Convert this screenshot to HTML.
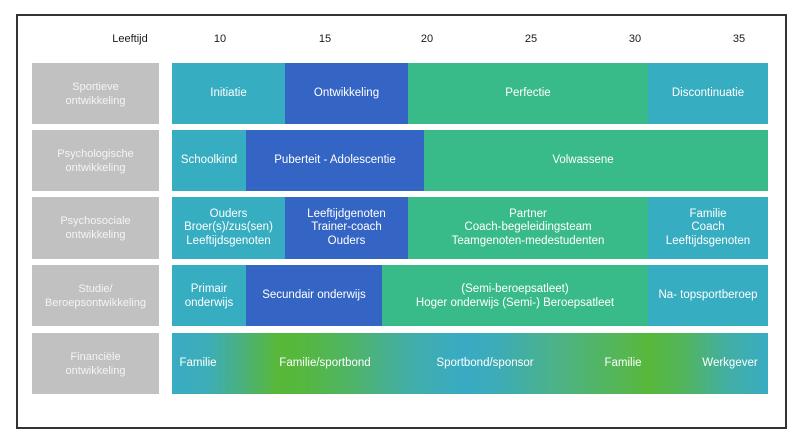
<!DOCTYPE html>
<html><head><meta charset="utf-8">
<style>
html,body{margin:0;padding:0;background:#fff;}
body{width:800px;height:443px;position:relative;overflow:hidden;font-family:"Liberation Sans",sans-serif;font-size:11px;}
.frame{position:absolute;left:16px;top:14px;width:771px;height:415px;box-sizing:border-box;border:2px solid #333;}
.hd{position:absolute;top:32px;height:14px;line-height:14px;color:#1a1a1a;transform:translateX(-50%);white-space:nowrap;}
.lab{position:absolute;left:32px;width:127px;height:61px;background:#c1c1c1;color:#f4f4f4;display:flex;align-items:center;justify-content:center;text-align:center;line-height:14px;}
.seg{position:absolute;height:61px;color:#fff;display:flex;align-items:center;justify-content:center;text-align:center;line-height:13.5px;box-sizing:border-box;white-space:nowrap;font-size:11.5px;}
.t{background:#36adc1;}
.b{background:#3565c4;}
.g{background:#39bb89;}
.grad{position:absolute;left:172px;top:333px;width:596px;height:61px;
background:linear-gradient(90deg,#38acc3 0%,#3dadb8 6%,#4bb17a 12%,#57b83a 17.5%,#56b83a 21%,#4fb467 30%,#42aea9 40%,#38abc4 49%,#3dacb6 55%,#4bb28a 64%,#54b65a 74%,#57b83a 80%,#52b55e 86%,#43afa3 93%,#38acc3 100%);}
.ft{position:absolute;top:356px;height:14px;line-height:14px;color:#fff;transform:translateX(-50%);white-space:nowrap;font-size:11.5px;}
</style></head><body>
<div class="frame"></div>

<div class="hd" style="left:130px;">Leeftijd</div>
<div class="hd" style="left:220px;">10</div>
<div class="hd" style="left:325px;">15</div>
<div class="hd" style="left:427px;">20</div>
<div class="hd" style="left:531px;">25</div>
<div class="hd" style="left:635px;">30</div>
<div class="hd" style="left:739px;">35</div>

<!-- Row 1 -->
<div class="lab" style="top:63px;">Sportieve<br>ontwikkeling</div>
<div class="seg t" style="top:63px;left:172px;width:113px;">Initiatie</div>
<div class="seg b" style="top:63px;left:285px;width:123px;">Ontwikkeling</div>
<div class="seg g" style="top:63px;left:408px;width:240px;">Perfectie</div>
<div class="seg t" style="top:63px;left:648px;width:120px;">Discontinuatie</div>

<!-- Row 2 -->
<div class="lab" style="top:130px;">Psychologische<br>ontwikkeling</div>
<div class="seg t" style="top:130px;left:172px;width:74px;">Schoolkind</div>
<div class="seg b" style="top:130px;left:246px;width:178px;">Puberteit - Adolescentie</div>
<div class="seg g" style="top:130px;left:424px;width:344px;padding-right:26px;">Volwassene</div>

<!-- Row 3 -->
<div class="lab" style="top:197px;height:62px;">Psychosociale<br>ontwikkeling</div>
<div class="seg t" style="top:197px;height:62px;left:172px;width:113px;">Ouders<br>Broer(s)/zus(sen)<br>Leeftijdsgenoten</div>
<div class="seg b" style="top:197px;height:62px;left:285px;width:123px;">Leeftijdgenoten<br>Trainer-coach<br>Ouders</div>
<div class="seg g" style="top:197px;height:62px;left:408px;width:240px;">Partner<br>Coach-begeleidingsteam<br>Teamgenoten-medestudenten</div>
<div class="seg t" style="top:197px;height:62px;left:648px;width:120px;">Familie<br>Coach<br>Leeftijdsgenoten</div>

<!-- Row 4 -->
<div class="lab" style="top:265px;">Studie/<br>Beroepsontwikkeling</div>
<div class="seg t" style="top:265px;left:172px;width:74px;line-height:14px;">Primair<br>onderwijs</div>
<div class="seg b" style="top:265px;left:246px;width:136px;">Secundair onderwijs</div>
<div class="seg g" style="top:265px;left:382px;width:266px;line-height:14px;">(Semi-beroepsatleet)<br>Hoger onderwijs (Semi-) Beroepsatleet</div>
<div class="seg t" style="top:265px;left:648px;width:120px;">Na- topsportberoep</div>

<!-- Row 5 -->
<div class="lab" style="top:333px;">Financiële<br>ontwikkeling</div>
<div class="grad"></div>
<div class="ft" style="left:198px;">Familie</div>
<div class="ft" style="left:325px;">Familie/sportbond</div>
<div class="ft" style="left:485px;">Sportbond/sponsor</div>
<div class="ft" style="left:623px;">Familie</div>
<div class="ft" style="left:730px;">Werkgever</div>
</body></html>
